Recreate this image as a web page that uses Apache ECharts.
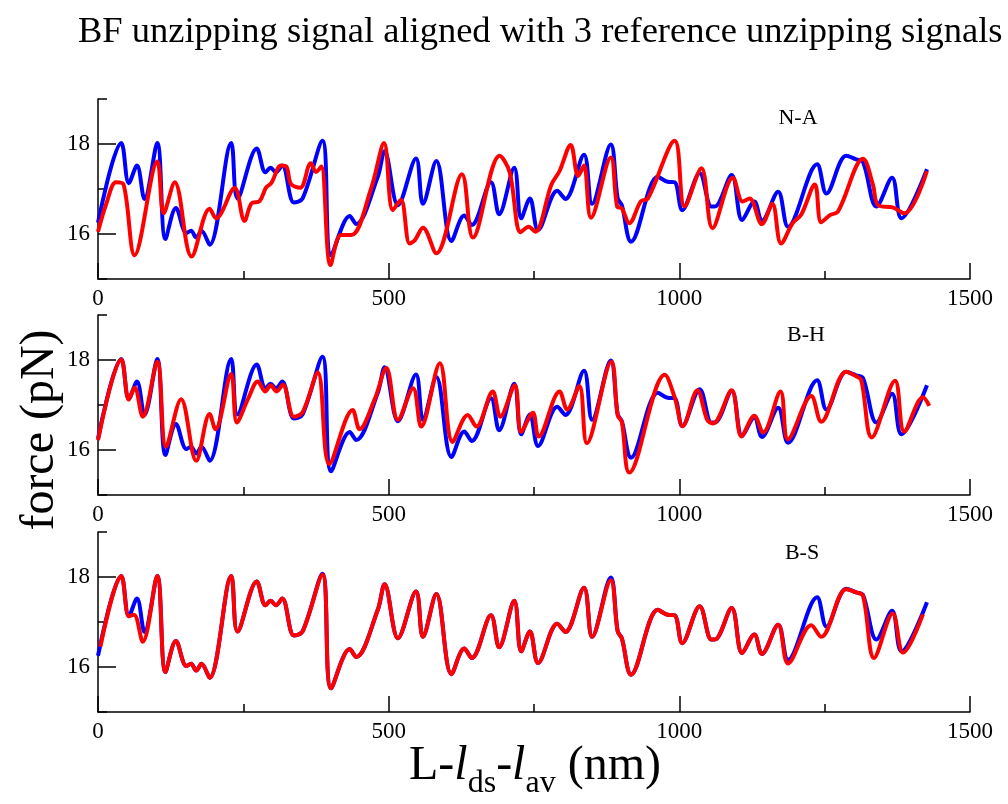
<!DOCTYPE html>
<html>
<head>
<meta charset="utf-8">
<script src="https://cdn.jsdelivr.net/npm/echarts@6/dist/echarts.min.js"></script>
<style>html,body{margin:0;padding:0;background:#fff;}#c{width:1008px;height:804px;}</style>
</head>
<body>
<div id="c"></div>
<script>
// BF unzipping signal (blue), same in every panel: [L - l_ds - l_av (nm), force (pN)]
const bfSignal = [
[0,16.25],[40,18.02],[53,17.13],[67,17.52],[80,16.78],[102,18.02],[116,15.89],[134,16.58],[152,16.02],[160,16.07],
[169,15.92],[178,16.07],[192,15.76],[229,18.02],[240,16.79],[273,17.9],[288,17.37],[297,17.47],[306,17.37],[317,17.52],
[337,16.7],[352,16.79],[386,18.07],[401,15.53],[433,16.4],[444,16.22],[481,17.26],[493,17.84],[516,16.64],[547,17.68],
[559,16.67],[582,17.62],[608,15.84],[630,16.41],[643,16.2],[676,17.15],[690,16.44],[716,17.47],[728,16.35],[743,16.79],
[757,16.09],[790,16.96],[804,16.78],[836,17.76],[850,16.67],[882,17.99],[894,16.79],[901,16.64],[917,15.83],[963,17.27],
[980,17.16],[992,17.15],[1005,16.53],[1035,17.35],[1055,16.61],[1061,16.61],[1090,17.31],[1108,16.31],[1129,16.72],[1142,16.29],
[1170,16.94],[1187,16.16],[1237,17.55],[1253,16.9],[1287,17.74],[1304,17.66],[1316,17.6],[1339,16.61],[1366,17.25],[1382,16.35],
[1426,17.44]
];
// reference N-A (red, top panel)
const refNA = [
[0,16.05],[14,16.66],[31,17.15],[44,17.1],[63,15.53],[102,17.61],[113,16.46],[132,17.15],[161,15.5],[192,16.56],
[203,16.35],[235,17.02],[252,16.29],[264,16.68],[278,16.73],[289,17.03],[298,17.13],[315,17.52],[324,17.5],[332,17.11],
[348,17.03],[366,17.57],[375,17.38],[384,17.5],[400,15.31],[418,15.98],[436,15.98],[470,17.02],[492,18.02],[507,16.53],
[521,16.76],[536,15.79],[545,15.86],[559,16.14],[582,15.57],[626,17.33],[645,15.92],[691,17.74],[708,17.38],[727,16.04],
[741,16.16],[752,16.05],[780,17.1],[794,17.4],[813,17.98],[826,17.29],[836,17.52],[848,16.36],[882,17.7],[893,16.61],
[901,16.57],[914,16.24],[934,16.73],[946,16.79],[992,18.07],[1009,16.61],[1038,17.46],[1057,16.13],[1092,17.25],[1109,16.72],
[1121,16.79],[1142,16.22],[1160,16.67],[1175,15.79],[1195,16.24],[1210,16.44],[1233,17.1],[1244,16.26],[1259,16.42],[1273,16.5],
[1316,17.67],[1333,17.1],[1342,16.64],[1367,16.59],[1387,16.46],[1426,17.4]
];
// reference B-H (red, middle panel)
const refBH = [
[0,16.22],[40,18.01],[53,17.12],[63,17.39],[77,16.74],[102,17.96],[117,16.07],[143,17.13],[169,15.76],[192,16.8],
[202,16.46],[229,17.69],[239,16.61],[258,17.13],[275,17.52],[288,17.3],[297,17.44],[307,17.3],[318,17.45],[337,16.74],
[352,16.84],[378,17.72],[398,15.69],[438,16.89],[450,16.46],[476,17.13],[496,17.82],[516,16.67],[542,17.37],[556,16.52],
[588,17.93],[610,16.18],[636,16.78],[651,16.52],[679,17.3],[692,16.74],[717,17.44],[728,16.4],[748,16.83],[758,16.3],
[794,17.3],[807,16.9],[828,17.42],[841,16.15],[883,17.96],[894,16.77],[901,16.63],[914,15.5],[975,17.67],[992,17.17],
[1006,16.53],[1031,17.33],[1048,16.67],[1058,16.59],[1090,17.33],[1107,16.3],[1129,16.76],[1144,16.39],[1174,17.3],[1187,16.24],
[1227,17.2],[1244,16.63],[1287,17.74],[1304,17.64],[1313,17.55],[1331,16.28],[1371,17.54],[1387,16.41],[1419,17.17],[1430,16.98]
];
// reference B-S (red, bottom panel)
const refBS = [
[4,16.45],[40,18.02],[53,17.13],[62,17.16],[77,16.56],[102,18.02],[116,15.89],[134,16.58],[152,16.02],[160,16.07],
[169,15.92],[178,16.07],[192,15.76],[229,18.02],[240,16.79],[273,17.9],[288,17.37],[297,17.47],[306,17.37],[317,17.52],
[337,16.7],[352,16.79],[386,18.05],[401,15.53],[433,16.4],[444,16.22],[481,17.26],[493,17.84],[516,16.64],[547,17.68],
[559,16.67],[582,17.62],[608,15.84],[630,16.41],[643,16.2],[676,17.15],[690,16.44],[716,17.47],[728,16.35],[743,16.79],
[757,16.09],[790,16.96],[804,16.78],[836,17.76],[850,16.67],[882,17.93],[894,16.79],[901,16.64],[917,15.83],[963,17.27],
[980,17.16],[992,17.15],[1005,16.53],[1035,17.35],[1055,16.61],[1061,16.61],[1090,17.31],[1108,16.31],[1129,16.72],[1142,16.29],
[1170,16.94],[1187,16.08],[1227,16.93],[1244,16.67],[1287,17.73],[1304,17.66],[1316,17.58],[1335,16.2],[1367,17.19],[1385,16.32],
[1419,17.17]
];
const panelNames = ['N-A','B-H','B-S'];
const refSeries = [refNA, refBH, refBS];
const xTicks = [0, 500, 1000, 1500];
const yMajor = [16, 18];
const yMinor = [15, 17, 19];

const FONT = '"Liberation Serif", "Times New Roman", serif';
const gridTops = [99, 315, 532];
const panelLabelPos = [[798,118],[806,335],[802,553]];

const grids = [], xAxes = [], yAxes = [], series = [], graphics = [];
gridTops.forEach((t, i) => {
  grids.push({left: 98, top: t, width: 872, height: 180});
  xAxes.push({
    type: 'value', gridIndex: i, min: xTicks[0], max: xTicks[xTicks.length-1], interval: 500,
    axisLine: {show: true, onZero: false, lineStyle: {color: '#000', width: 1.5}},
    axisTick: {show: true, inside: true, length: 16, lineStyle: {color: '#000', width: 1.5}},
    minorTick: {show: true, splitNumber: 2, length: 8, lineStyle: {color: '#000', width: 1.5}},
    splitLine: {show: false}, minorSplitLine: {show: false},
    axisLabel: {color: '#000', fontFamily: FONT, fontSize: 23, margin: 8, formatter: v => String(v)}
  });
  yAxes.push({
    type: 'value', gridIndex: i, min: 15, max: 19, position: 'left',
    axisLine: {show: true, onZero: false, lineStyle: {color: '#000', width: 1.5}},
    axisTick: {show: true, inside: true, length: 18, customValues: yMajor, lineStyle: {color: '#000', width: 1.5}},
    axisLabel: {customValues: yMajor, color: '#000', fontFamily: FONT, fontSize: 23, margin: 8},
    splitLine: {show: false}
  });
  yAxes.push({
    type: 'value', gridIndex: i, min: 15, max: 19, position: 'left', offset: 0,
    axisLine: {show: false},
    axisTick: {show: true, inside: true, length: 9, customValues: yMinor, lineStyle: {color: '#000', width: 1.5}},
    axisLabel: {show: false},
    splitLine: {show: false}
  });
  series.push({
    type: 'line', xAxisIndex: i, yAxisIndex: 2*i, data: bfSignal, showSymbol: false, smooth: 0.35,
    lineStyle: {color: '#0000ff', width: 4}, itemStyle: {color: '#0000ff'}, z: 2, animation: false
  });
  series.push({
    type: 'line', xAxisIndex: i, yAxisIndex: 2*i, data: refSeries[i], showSymbol: false, smooth: 0.35,
    lineStyle: {color: '#ff0000', width: 4}, itemStyle: {color: '#ff0000'}, z: 3, animation: false
  });
  graphics.push({
    type: 'text', x: panelLabelPos[i][0], y: panelLabelPos[i][1],
    style: {text: panelNames[i], fontFamily: FONT, fontSize: 22, fill: '#000', align: 'center', verticalAlign: 'middle'}
  });
});

graphics.push({
  type: 'text', x: 40, y: 430, rotation: Math.PI / 2,
  style: {text: 'force (pN)', fontFamily: FONT, fontSize: 48, fill: '#000', align: 'center', verticalAlign: 'middle'}
});
graphics.push({
  type: 'text', x: 535, y: 742,
  style: {
    text: '{n|L-}{i|l}{s|ds}{n|-}{i|l}{s|av}{n| (nm)}',
    align: 'center', verticalAlign: 'top', fill: '#000',
    rich: {
      n: {fontFamily: FONT, fontSize: 48, lineHeight: 58, verticalAlign: 'top', fill: '#000'},
      i: {fontFamily: FONT, fontSize: 48, lineHeight: 58, verticalAlign: 'top', fontStyle: 'italic', fill: '#000'},
      s: {fontFamily: FONT, fontSize: 32, lineHeight: 32, verticalAlign: 'bottom', fill: '#000'}
    }
  }
});

const chart = echarts.init(document.getElementById('c'), null, {renderer: 'canvas'});
chart.setOption({
  backgroundColor: '#fff',
  animation: false,
  title: {
    text: 'BF unzipping signal aligned with 3 reference unzipping signals',
    left: 73, top: 9,
    textStyle: {fontFamily: FONT, fontSize: 36.5, fontWeight: 'normal', color: '#000'}
  },
  grid: grids, xAxis: xAxes, yAxis: yAxes, series: series, graphic: graphics
});
</script>
</body>
</html>
